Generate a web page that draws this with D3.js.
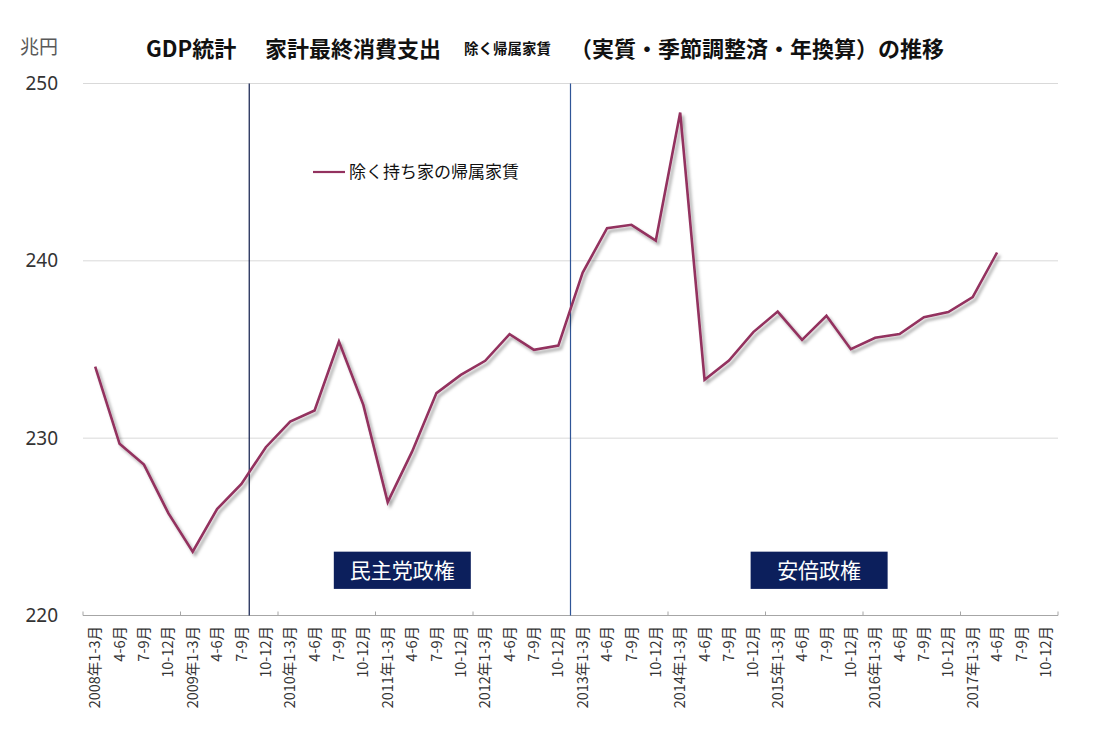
<!DOCTYPE html>
<html><head><meta charset="utf-8">
<script src="https://cdn.jsdelivr.net/npm/d3@7"></script>
<style>body{margin:0;background:#fff} svg{display:block}</style>
</head><body><svg id="c" width="1110" height="750"></svg>
<script>
const years = [2008, 2009, 2010, 2011, 2012, 2013, 2014, 2015, 2016, 2017];
const quarters = ["1-3月", "4-6月", "7-9月", "10-12月"];
const categories = years.flatMap(y => quarters.map(q => y + "年" + q));
const tickLabels = years.flatMap(y => quarters.map((q, i) => i === 0 ? y + "年" + q : q));
const seriesName = "除く持ち家の帰属家賃";
const values = [
  234.04, 229.68, 228.51, 225.77,
  223.60, 226.00, 227.42, 229.49,
  230.94, 231.56, 235.45, 231.88,
  226.39, 229.24, 232.54, 233.57,
  234.36, 235.87, 234.98, 235.22,
  239.34, 241.84, 242.03, 241.14,
  248.36, 233.29, 234.38, 235.98,
  237.14, 235.54, 236.90, 235.02,
  235.66, 235.87, 236.82, 237.11,
  237.95, 240.47, null, null
];
const yTicks = [220, 230, 240, 250];
// regime change markers, in quarter units from the start of the axis
const regimeLines = [6.82, 20];
const regimeLabels = ["民主党政権", "安倍政権"];
const regimeLabelPos = [13.1, 30.2];
const titleParts = ["GDP統計", "家計最終消費支出", "除く帰属家賃", "（実質・季節調整済・年換算）の推移"];

const svg = d3.select("#c");
const pLeft = 83, pRight = 1058, pTop = 83.5, pBottom = 615.5;
const jp = "'Noto Sans CJK JP', 'Noto Sans', sans-serif";

const x = d3.scaleBand().domain(categories).range([pLeft, pRight]).padding(0);
const y = d3.scaleLinear().domain([220, 250]).range([pBottom, pTop]);
const q = d3.scaleLinear().domain([0, categories.length]).range([pLeft, pRight]);

const defs = svg.append("defs");
const f = defs.append("filter").attr("id", "sh").attr("x", "-5%").attr("y", "-5%").attr("width", "110%").attr("height", "110%");
f.append("feDropShadow").attr("dx", 2.5).attr("dy", 3).attr("stdDeviation", 1.6)
  .attr("flood-color", "#000").attr("flood-opacity", 0.35);

// gridlines
svg.append("g").selectAll("line").data(yTicks.filter(t => t !== 220)).join("line")
  .attr("x1", pLeft).attr("x2", pRight)
  .attr("y1", d => y(d)).attr("y2", d => y(d))
  .attr("stroke", "#d9d9d9").attr("stroke-width", 1);

// y labels
svg.append("g").selectAll("text").data(yTicks).join("text")
  .attr("x", 58).attr("y", d => y(d)).attr("dy", "0.35em")
  .attr("text-anchor", "end")
  .attr("font-family", "'Noto Sans', 'DejaVu Sans', sans-serif").attr("font-size", 19)
  .attr("fill", "#333").text(d => d);

// x axis line and ticks
svg.append("line").attr("x1", pLeft).attr("x2", pRight).attr("y1", pBottom).attr("y2", pBottom)
  .attr("stroke", "#a6a6a6").attr("stroke-width", 1);
svg.append("g").selectAll("line").data(d3.range(0, categories.length + 1, 4)).join("line")
  .attr("x1", d => q(d)).attr("x2", d => q(d))
  .attr("y1", pBottom).attr("y2", pBottom - 4)
  .attr("stroke", "#a6a6a6").attr("stroke-width", 1);

// x labels
svg.append("g").selectAll("text").data(categories).join("text")
  .attr("transform", (d) => `translate(${x(d) + x.bandwidth() / 2},626) rotate(-90)`)
  .attr("dy", "0.35em").attr("text-anchor", "end")
  .attr("font-family", jp).attr("font-size", 14.5).attr("fill", "#333")
  .text((d, i) => tickLabels[i]);

// regime lines
const lineColors = ["#0d1b4a", "#2f5597"];
svg.append("g").selectAll("line").data(regimeLines).join("line")
  .attr("x1", d => q(d)).attr("x2", d => q(d))
  .attr("y1", pTop).attr("y2", pBottom)
  .attr("stroke", (d, i) => lineColors[i]).attr("stroke-width", 1.2);

// data line
const line = d3.line()
  .defined(d => d != null)
  .x((d, i) => x(categories[i]) + x.bandwidth() / 2)
  .y(d => y(d));
svg.append("path").datum(values)
  .attr("d", line).attr("fill", "none")
  .attr("stroke", "#93325f").attr("stroke-width", 2.6)
  .attr("stroke-linejoin", "miter")
  .attr("filter", "url(#sh)");

// regime label boxes
regimeLabels.forEach((t, i) => {
  const g = svg.append("g");
  const cx = q(regimeLabelPos[i]);
  const txt = g.append("text").attr("x", cx).attr("y", y(222.55)).attr("dy", "0.35em")
    .attr("text-anchor", "middle").attr("font-family", jp).attr("font-size", 21)
    .attr("fill", "#fff").text(t);
  const bb = txt.node().getBBox();
  const w = Math.max(bb.width + 28, 137);
  g.insert("rect", "text").attr("x", cx - w / 2).attr("y", y(223.6))
    .attr("width", w).attr("height", y(221.5) - y(223.6)).attr("fill", "#0c1f5c");
});

// legend
svg.append("line").attr("x1", 313).attr("x2", 345).attr("y1", 172).attr("y2", 172)
  .attr("stroke", "#93325f").attr("stroke-width", 2.2);
svg.append("text").attr("x", 349).attr("y", 172).attr("dy", "0.35em")
  .attr("font-family", jp).attr("font-size", 17).attr("fill", "#111").text(seriesName);

// unit
svg.append("text").attr("x", 20).attr("y", 47).attr("dy", "0.35em")
  .attr("font-family", jp).attr("font-size", 19).attr("fill", "#595959").text("兆円");

// title (pieces placed left to right)
const titleX = [146, 265, 464, 570];
const titleSize = [22, 22, 14.5, 22];
svg.append("g").selectAll("text").data(titleParts).join("text")
  .attr("x", (d, i) => titleX[i]).attr("y", 49).attr("dy", "0.35em")
  .attr("font-family", jp).attr("font-weight", "bold").attr("fill", "#111")
  .attr("font-size", (d, i) => titleSize[i]).text(d => d);
</script></body></html>
